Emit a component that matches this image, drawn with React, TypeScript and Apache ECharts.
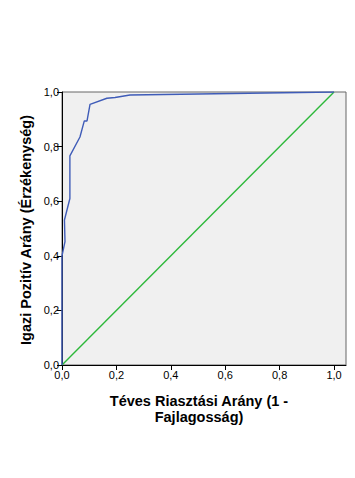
import React, { useEffect, useRef } from "react";
import * as echarts from "echarts";

const rocFpr = [0, 0, 0.011, 0.009, 0.029, 0.029, 0.066, 0.082, 0.092, 0.103, 0.165, 0.195, 0.25, 1];
const rocTpr = [0, 0.4, 0.452, 0.531, 0.61, 0.766, 0.835, 0.894, 0.894, 0.955, 0.977, 0.98, 0.989, 1];
const refX = [0, 1];
const refY = [0, 1];
const tickValues = [0, 0.2, 0.4, 0.6, 0.8, 1.0];
const xTitleLines = ["Téves Riasztási Arány (1 -", "Fajlagosság)"];
const yTitle = "Igazi Pozitív Arány (Érzékenység)";

const fmt = (v: number) => v.toFixed(1).replace(".", ",");
const FONT = "'Liberation Sans', Arial, sans-serif";

export default function App() {
  const ref = useRef<HTMLDivElement>(null);
  useEffect(() => {
    if (!ref.current) return;
    const chart = echarts.init(ref.current, null, { renderer: "svg" });
    chart.setOption({
      animation: false,
      backgroundColor: "#ffffff",
      grid: {
        left: 62,
        top: 92,
        right: 9,
        bottom: 113,
        show: true,
        backgroundColor: "#f0f0f0",
        borderColor: "#666666",
        borderWidth: 1,
      },
      xAxis: {
        type: "value",
        min: 0,
        max: 1.044,
        axisLine: { show: true, lineStyle: { color: "#000", width: 1 } },
        axisTick: { show: true, length: 5, customValues: tickValues, lineStyle: { color: "#000" } },
        axisLabel: {
          customValues: tickValues,
          formatter: (v: number) => fmt(v),
          color: "#000",
          fontSize: 11,
          fontFamily: FONT,
          margin: 4,
        },
        splitLine: { show: false },
      },
      yAxis: {
        type: "value",
        min: 0,
        max: 1,
        interval: 0.2,
        axisLine: { show: true, lineStyle: { color: "#000", width: 1 } },
        axisTick: { show: true, length: 5, lineStyle: { color: "#000" } },
        axisLabel: {
          formatter: (v: number) => fmt(v),
          color: "#000",
          fontSize: 11,
          fontFamily: FONT,
          margin: 3,
        },
        splitLine: { show: false },
      },
      graphic: [
        {
          type: "text",
          x: 199,
          y: 409,
          style: {
            text: xTitleLines.join("\n"),
            font: `bold 14.5px ${FONT}`,
            fill: "#000",
            align: "center",
            verticalAlign: "middle",
            lineHeight: 16,
          },
        },
        {
          type: "text",
          x: 26,
          y: 230,
          rotation: Math.PI / 2,
          style: {
            text: yTitle,
            font: `bold 14.5px ${FONT}`,
            fill: "#000",
            align: "center",
            verticalAlign: "middle",
          },
        },
      ],
      series: [
        {
          type: "line",
          data: refX.map((x, i) => [x, refY[i]]),
          symbol: "none",
          lineStyle: { color: "#2db83a", width: 1.4 },
          z: 2,
        },
        {
          type: "line",
          data: rocFpr.map((x, i) => [x, rocTpr[i]]),
          symbol: "none",
          lineStyle: { color: "#3f5cb8", width: 1.4 },
          z: 3,
        },
      ],
    });
    return () => chart.dispose();
  }, []);
  return (
    <div
      ref={ref}
      style={{ position: "absolute", left: 0, top: 0, width: 355, height: 478 }}
    />
  );
}
